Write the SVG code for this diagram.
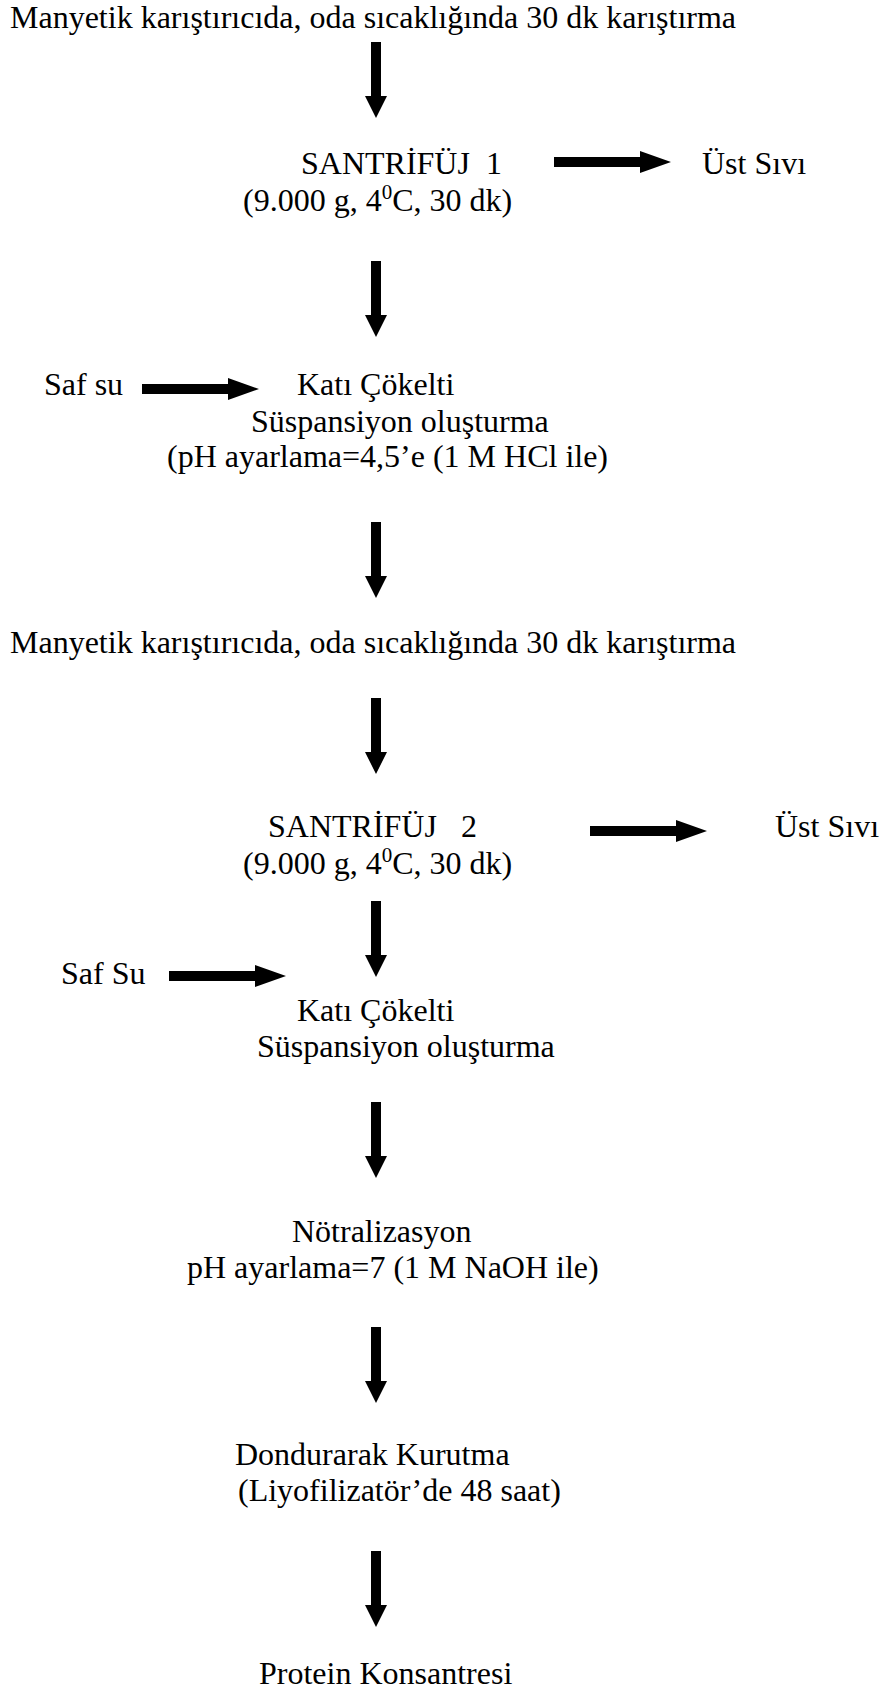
<svg xmlns="http://www.w3.org/2000/svg" width="889" height="1693" viewBox="0 0 889 1693">
<style>
text{font-family:"Liberation Serif","Times New Roman",serif;font-size:32px;fill:#000}
.sup{font-size:21px}
.arw{fill:#000}
</style>
<defs>
<path id="va" d="M-5,0 H5 V54 H11 L0,76 L-11,54 H-5 Z"/>
<path id="ha" d="M0,-5 H86 V-11 L117,0 L86,11 V5 H0 Z"/>
</defs>
<rect width="889" height="1693" fill="#fff"/>
<g id="connectors" class="arw">
<use href="#va" x="376" y="42"/>
<use href="#ha" x="554" y="162"/>
<use href="#va" x="376" y="261"/>
<use href="#ha" x="142" y="389"/>
<use href="#va" x="376" y="522"/>
<use href="#va" x="376" y="698"/>
<use href="#ha" x="590" y="831"/>
<use href="#va" x="376" y="901"/>
<use href="#ha" x="169" y="976"/>
<use href="#va" x="376" y="1102"/>
<use href="#va" x="376" y="1327"/>
<use href="#va" x="376" y="1551"/>
</g>
<g id="n1"><text x="10" y="28">Manyetik karıştırıcıda, oda sıcaklığında 30 dk karıştırma</text></g>
<g id="n2"><text x="301" y="174" xml:space="preserve">SANTRİFÜJ  1</text>
<text x="243" y="211">(9.000 g, 4<tspan class="sup" dy="-12">0</tspan><tspan dy="12">C, 30 dk)</tspan></text></g>
<g id="n3"><text x="702" y="174">Üst Sıvı</text></g>
<g id="n4"><text x="44" y="395">Saf su</text></g>
<g id="n5"><text x="297" y="395">Katı Çökelti</text>
<text x="251" y="432">Süspansiyon oluşturma</text>
<text x="167" y="467">(pH ayarlama=4,5’e (1 M HCl ile)</text></g>
<g id="n6"><text x="10" y="653">Manyetik karıştırıcıda, oda sıcaklığında 30 dk karıştırma</text></g>
<g id="n7"><text x="268" y="837" xml:space="preserve">SANTRİFÜJ   2</text>
<text x="243" y="874">(9.000 g, 4<tspan class="sup" dy="-12">0</tspan><tspan dy="12">C, 30 dk)</tspan></text></g>
<g id="n8"><text x="775" y="837">Üst Sıvı</text></g>
<g id="n9"><text x="61" y="984">Saf Su</text></g>
<g id="n10"><text x="297" y="1021">Katı Çökelti</text>
<text x="257" y="1057">Süspansiyon oluşturma</text></g>
<g id="n11"><text x="292" y="1242">Nötralizasyon</text>
<text x="187" y="1278">pH ayarlama=7 (1 M NaOH ile)</text></g>
<g id="n12"><text x="235" y="1465">Dondurarak Kurutma</text>
<text x="238" y="1501">(Liyofilizatör’de 48 saat)</text></g>
<g id="n13"><text x="259" y="1684">Protein Konsantresi</text></g>
</svg>
